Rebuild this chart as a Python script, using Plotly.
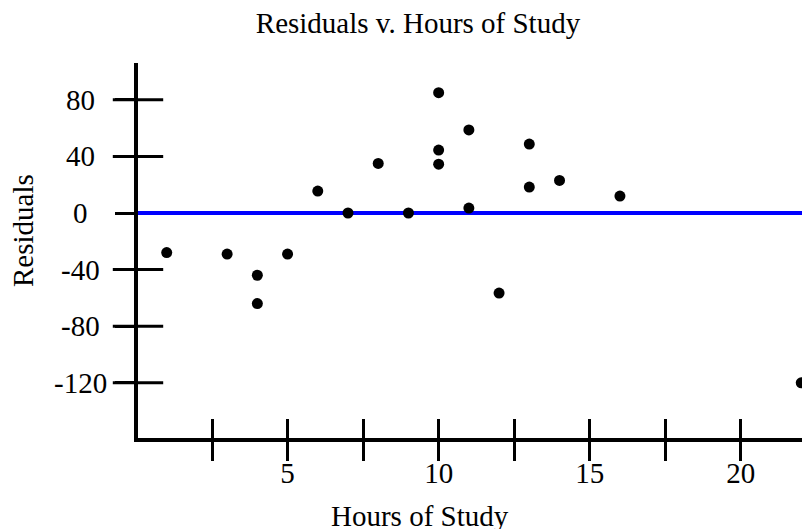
import plotly.graph_objects as go

hours = [1, 3, 4, 4, 5, 6, 7, 8, 9, 10, 10, 10, 11, 11, 12, 13, 13, 14, 16, 22]
residuals = [-28, -29, -44, -64, -29, 15.5, 0, 35, 0, 85, 44.5, 34.5, 58.7, 3.5,
             -56.6, 48.7, 18.3, 23, 12, -120]

x_tickvals = [2.5, 5, 7.5, 10, 12.5, 15, 17.5, 20]
x_ticktext = ['', '5', '', '10', '', '15', '', '20']
y_tickvals = [80, 40, 0, -40, -80, -120]
y_ticktext = ['80', '40', '0', '-40', '-80', '-120']
baseline_y = 0

FONT = "Liberation Serif, Times New Roman, serif"
FS = 29
X_RANGE = [0.05, 22.29]
Y_RANGE = [-159, 106]
# page has an 8px body margin, so the figure is 8px smaller and everything shifted
OFF = 8
W, H = 810 - OFF, 529 - OFF
LEFT, TOP, BOTTOM = 138, 63, 438          # plot area in page pixels
PL, PT, PB = LEFT - OFF, TOP - OFF, 529 - BOTTOM
PW, PH = W - PL, H - PT - PB


def px(xpage):
    return (xpage - LEFT) / PW


def py(ypage):
    return (BOTTOM - ypage) / PH


inner_y_ticks = [v for v in y_tickvals if v != baseline_y]  # blue line covers that one

fig = go.Figure()
# crossing y ticks: short horizontal strokes centred on the y axis
fig.add_trace(go.Scatter(x=[X_RANGE[0]] * len(inner_y_ticks), y=inner_y_ticks,
                         mode='markers', cliponaxis=False, hoverinfo='skip',
                         showlegend=False,
                         marker=dict(symbol='line-ew', size=36,
                                     line=dict(color='black', width=3))))
fig.add_trace(go.Scatter(x=X_RANGE, y=[baseline_y, baseline_y], mode='lines',
                         line=dict(color='#0000ff', width=4),
                         hoverinfo='skip', showlegend=False))
fig.add_trace(go.Scatter(x=hours, y=residuals, mode='markers',
                         marker=dict(color='black', size=11),
                         hoverinfo='x+y', showlegend=False, cliponaxis=False))
# invisible trace to activate the overlay x axis (inside half of crossing ticks)
fig.add_trace(go.Scatter(x=hours, y=residuals, mode='markers', xaxis='x2', yaxis='y2',
                         marker=dict(opacity=0), hoverinfo='skip', showlegend=False))

common = dict(showgrid=False, tickwidth=3, tickcolor='black')
fig.update_layout(
    width=W, height=H,
    margin=dict(l=PL, r=0, t=PT, b=PB, pad=0),
    paper_bgcolor='white', plot_bgcolor='white',
    font=dict(family=FONT, size=FS, color='black'),
    title=dict(text='Residuals v. Hours of Study', x=(418 - OFF) / W, xanchor='center',
               y=1 - (23 - OFF) / H, yanchor='middle', yref='container',
               font=dict(family=FONT, size=FS, color='black'), automargin=False),
    xaxis=dict(range=X_RANGE, tickmode='array', tickvals=x_tickvals, ticktext=x_ticktext,
               ticks='outside', ticklen=19, showline=True, linewidth=4, linecolor='black',
               zeroline=False, ticklabelstandoff=-13, automargin=False,
               tickfont=dict(family=FONT, size=FS, color='black'), **common),
    yaxis=dict(range=Y_RANGE, tickmode='array', tickvals=y_tickvals,
               ticks='outside', ticklen=19, showline=True, linewidth=4, linecolor='black',
               showticklabels=False, zeroline=False, automargin=False, **common),
    xaxis2=dict(range=X_RANGE, overlaying='x', anchor='y', side='bottom',
                tickmode='array', tickvals=x_tickvals, ticks='inside', ticklen=19,
                showticklabels=False, showline=False, zeroline=False, **common),
    yaxis2=dict(range=Y_RANGE, overlaying='y', anchor='x', side='left',
                showticklabels=False, showline=False, zeroline=False, ticks='',
                showgrid=False),
)

# y tick labels, centered like the reference
for v, t in zip(y_tickvals, y_ticktext):
    fig.add_annotation(text=t, x=px(80), xref='paper', y=v, yref='y',
                       xanchor='center', yanchor='middle', showarrow=False,
                       font=dict(family=FONT, size=FS, color='black'))

fig.add_annotation(text='Hours of Study', x=px(420), xref='paper',
                   y=py(516), yref='paper', xanchor='center', yanchor='middle',
                   showarrow=False, font=dict(family=FONT, size=FS, color='black'))
fig.add_annotation(text='Residuals', x=px(23), xref='paper',
                   y=py(231), yref='paper', xanchor='center', yanchor='middle',
                   textangle=-90, showarrow=False,
                   font=dict(family=FONT, size=FS, color='black'))

fig.write_html("out.html")
